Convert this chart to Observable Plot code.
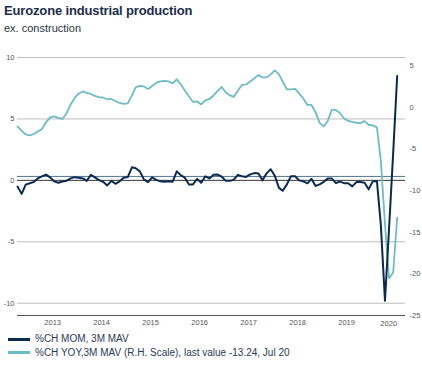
<!DOCTYPE html>
<html>
<head>
<meta charset="utf-8">
<script src="https://cdn.jsdelivr.net/npm/d3@7"></script>
<script src="https://cdn.jsdelivr.net/npm/@observablehq/plot@0.6"></script>
<style>
  html, body { margin: 0; padding: 0; background: #fff; }
  body { width: 422px; height: 372px; position: relative; overflow: hidden;
         font-family: "Liberation Sans", Arial, Helvetica, sans-serif; }
  #title { position: absolute; left: 4px; top: 4px; font-size: 13px; line-height: 13px;
           font-weight: bold; color: #1b2d4a; letter-spacing: -0.15px; white-space: nowrap; }
  #subtitle { position: absolute; left: 4px; top: 23px; font-size: 11px; line-height: 11px;
              color: #2a3344; white-space: nowrap; }
  #chart { position: absolute; left: 0; top: 40px; }
  .leg { position: absolute; left: 0; font-size: 10px; line-height: 10px; color: #2b3a55; white-space: nowrap; }
  .leg .sw { position: absolute; left: 8px; width: 22px; height: 2.5px; }
  .leg .tx { position: absolute; left: 35px; top: 0; }
</style>
</head>
<body>
<div id="title">Eurozone industrial production</div>
<div id="subtitle">ex. construction</div>
<div id="chart"></div>
<div class="leg" style="top:333.5px"><div class="sw" style="top:4.6px;background:#0b2a50"></div><div class="tx" id="leg1"></div></div>
<div class="leg" style="top:347.5px"><div class="sw" style="top:3.6px;background:#6cbcc5"></div><div class="tx" id="leg2"></div></div>
<script>
// ---- data (monthly, Oct 2012 .. Jul 2020) ----
const startMonth = "2012-10-01";
const momSeries = [
  -0.5, -1.1, -0.35, -0.24, -0.12, 0.16, 0.33, 0.47, 0.24, -0.08,
  -0.19, -0.1, -0.04, 0.16, 0.26, 0.22, 0.16, -0.04, 0.45, 0.24,
  0.02, -0.12, -0.41, -0.04, -0.28, -0.08, 0.22, 0.27, 1.06, 0.98,
  0.73, 0.08, -0.14, 0.24, 0.04, -0.08, -0.12, -0.08, -0.12, 0.73,
  0.41, 0.22, -0.33, -0.33, 0.12, -0.2, 0.33, 0.16, 0.46, 0.47,
  0.3, -0.04, -0.04, 0.06, 0.45, 0.33, 0.28, 0.49, 0.59, 0.55,
  0.0, 0.57, 0.9, 0.37, -0.61, -0.85, -0.33, 0.33, 0.33, 0.0,
  -0.08, -0.24, 0.12, -0.45, -0.33, -0.12, 0.16, 0.16, -0.22, -0.1,
  -0.23, -0.24, -0.49, -0.14, -0.14, -0.2, -0.73, -0.08, -0.06, -3.6,
  -9.8, -4.0, 2.2, 8.5
];
const yoySeries = [
  -2.28, -2.82, -3.25, -3.37, -3.19, -2.88, -2.58, -1.8, -1.2, -1.08,
  -1.26, -1.38, -0.72, 0.36, 1.14, 1.68, 1.92, 1.74, 1.62, 1.38,
  1.2, 1.2, 0.96, 1.02, 0.78, 0.54, 0.44, 0.48, 1.44, 2.4,
  2.58, 2.52, 2.22, 2.58, 2.94, 3.12, 3.18, 3.12, 2.88, 3.37,
  2.76, 2.04, 1.32, 0.66, 0.72, 0.36, 0.84, 1.02, 1.44, 1.98,
  2.46, 1.8, 1.44, 1.26, 2.04, 2.7, 2.76, 3.12, 3.49, 3.91,
  3.61, 3.61, 3.97, 4.45, 3.97, 3.12, 2.16, 2.16, 2.22, 1.68,
  1.08, 0.3, 0.3, -0.6, -1.86, -2.28, -1.56, -0.3, -0.3, -0.66,
  -1.32, -1.62, -1.74, -1.84, -1.89, -1.65, -2.08, -2.16, -2.4, -6.37,
  -14.0, -20.55, -19.83, -13.24
];
const leftDomain = [-11, 10];
const rightDomain = [-25, 6];
const leftTicks = [-10, -5, 0, 5, 10];
const leftGrid = [-10, -5, 5, 10];
const rightTicks = [5, 0, -5, -10, -15, -20, -25];
const refLevel = 0.32;
const yearLabels = [2013, 2014, 2015, 2016, 2017, 2018, 2019];
const lastYearLabel = [2020];
const xDomain = ["2012-10-01", "2020-09-01"];
const legendLabels = ["%CH MOM, 3M MAV", "%CH YOY,3M MAV (R.H. Scale), last value -13.24, Jul 20"];

// ---- build ----
const start = new Date(startMonth);
const dates = momSeries.map((_, i) => d3.utcMonth.offset(start, i));
const rows = dates.map((date, i) => ({date, mom: momSeries[i], yoy: yoySeries[i]}));

const k = (leftDomain[1] - leftDomain[0]) / (rightDomain[1] - rightDomain[0]);
const toLeft = r => leftDomain[0] + (r - rightDomain[0]) * k;
const fromLeft = l => rightDomain[0] + (l - leftDomain[0]) / k;
const fmt = v => String(Math.round(v));

const C_MOM = "#0b2a50", C_YOY = "#6cbcc5";

const chart = Plot.plot({
  width: 422,
  height: 290,
  marginLeft: 17,
  marginRight: 17,
  marginTop: 17,
  marginBottom: 15,
  style: {fontFamily: "'Liberation Sans', Arial, sans-serif", fontSize: "7.5px", color: "#555", background: "transparent"},
  x: {type: "utc", domain: xDomain.map(d => new Date(d)), axis: null, label: null},
  y: {domain: leftDomain, axis: null, label: null},
  marks: [
    Plot.ruleY(leftGrid, {stroke: "#bdbdbd", strokeWidth: 1}),
    Plot.ruleY([leftDomain[0]], {stroke: "#555", strokeWidth: 1.2}),
    Plot.ruleY([refLevel], {stroke: "#4f7796", strokeWidth: 1}),
    Plot.ruleY([0], {stroke: "#333", strokeWidth: 1}),
    Plot.axisY(leftTicks, {anchor: "left", label: null, tickSize: 0, tickPadding: 3, tickFormat: d => String(d), fill: "#555"}),
    Plot.axisY(rightTicks.map(toLeft), {anchor: "right", label: null, tickSize: 0, tickPadding: 4, tickFormat: d => fmt(fromLeft(d)), fill: "#555"}),
    Plot.axisX(yearLabels.map(y => new Date(Date.UTC(y, 5, 20))), {anchor: "bottom", label: null, tickSize: 0, tickPadding: 4, tickFormat: d => String(d.getUTCFullYear()), fill: "#555"}),
    Plot.text(lastYearLabel, {x: y => new Date(Date.UTC(y, 5, 20)), y: leftDomain[0], text: y => String(y), dy: 8, dx: -7, fill: "#555"}),
    Plot.line(rows, {x: "date", y: d => toLeft(d.yoy), stroke: C_YOY, strokeWidth: 1.8}),
    Plot.line(rows, {x: "date", y: "mom", stroke: C_MOM, strokeWidth: 2})
  ]
});
document.getElementById("chart").append(chart);
document.getElementById("leg1").textContent = legendLabels[0];
document.getElementById("leg2").textContent = legendLabels[1];
</script>
</body>
</html>
